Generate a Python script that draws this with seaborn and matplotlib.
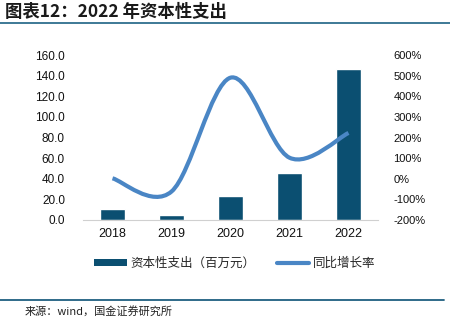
import matplotlib
matplotlib.use("Agg")
import matplotlib.pyplot as plt
from matplotlib.path import Path
from matplotlib.patches import PathPatch, Patch
from matplotlib.lines import Line2D
from matplotlib.ticker import FuncFormatter, MultipleLocator
import seaborn as sns
import pandas as pd

years = ["2018", "2019", "2020", "2021", "2022"]
capex = [11.0, 5.0, 23.0, 46.0, 146.0]          # 资本性支出（百万元）
growth = [2.0, -62.0, 490.0, 102.0, 222.0]      # 同比增长率 (%)

title = "图表12：2022 年资本性支出"
bar_label = "资本性支出（百万元）"
line_label = "同比增长率"
source = "来源：wind，国金证券研究所"

BAR_C = "#0B4F71"
LINE_C = "#4A86C5"

sns.set_theme(style="white")
plt.rcParams["font.family"] = ["Liberation Sans", "Noto Sans CJK SC", "DejaVu Sans"]

fig = plt.figure(figsize=(4.5, 3.25), dpi=100)
ax = fig.add_axes([83 / 450, 1 - 220 / 325, 295 / 450, 165 / 325])

df = pd.DataFrame({"year": years, "capex": capex, "growth": growth})
sns.barplot(data=df, x="year", y="capex", color=BAR_C, width=0.41,
            saturation=1, ax=ax, zorder=2)
ax.set_xlim(-0.5, 4.5)
ax.set_ylim(0, 160)
ax.yaxis.set_major_locator(MultipleLocator(20))
ax.yaxis.set_major_formatter(FuncFormatter(lambda v, p: f"{v:.1f}"))
ax.set_xlabel("")
ax.set_ylabel("")
for s in ["top", "right", "left"]:
    ax.spines[s].set_visible(False)
ax.spines["bottom"].set_color("#d0d0d0")
ax.spines["bottom"].set_linewidth(0.8)
ax.tick_params(axis="y", length=0, pad=13, labelsize=8.5, colors="#111111")
ax.tick_params(axis="x", length=0, pad=6, labelsize=9, colors="#111111")

ax2 = ax.twinx()
ax2.set_ylim(-200, 600)
ax2.yaxis.set_major_locator(MultipleLocator(100))
ax2.yaxis.set_major_formatter(FuncFormatter(lambda v, p: f"{v:.0f}%"))
for s in ["top", "right", "left", "bottom"]:
    ax2.spines[s].set_visible(False)
ax2.tick_params(axis="y", length=0, pad=11, labelsize=8, colors="#111111")
ax2.grid(False)

# smoothed (Catmull-Rom style) line through the growth points
xs = [ax.get_xticks()[i] for i in range(len(growth))]
ys = growth
verts = [(xs[0], ys[0])]
codes = [Path.MOVETO]
n = len(xs)
for i in range(n - 1):
    x0, y0 = (xs[i - 1], ys[i - 1]) if i > 0 else (xs[i], ys[i])
    x1, y1 = xs[i], ys[i]
    x2, y2 = xs[i + 1], ys[i + 1]
    x3, y3 = (xs[i + 2], ys[i + 2]) if i + 2 < n else (xs[i + 1], ys[i + 1])
    c1 = (x1 + (x2 - x0) / 6, y1 + (y2 - y0) / 6)
    c2 = (x2 - (x3 - x1) / 6, y2 - (y3 - y1) / 6)
    verts += [c1, c2, (x2, y2)]
    codes += [Path.CURVE4] * 3
ax2.add_patch(PathPatch(Path(verts, codes), facecolor="none", edgecolor=LINE_C,
                        lw=3, capstyle="butt", joinstyle="round", zorder=3))

handles = [Patch(facecolor=BAR_C, edgecolor="none"),
           Line2D([0], [0], color=LINE_C, lw=3)]
fig.legend(handles, [bar_label, line_label], loc="center",
           bbox_to_anchor=(0.522, 1 - 263 / 325), ncol=2, frameon=False,
           handlelength=2.6, handleheight=0.5, columnspacing=1.7,
           handletextpad=0.3,
           prop={"family": ["Noto Sans CJK SC", "DejaVu Sans"], "size": 9})

fig.text(5 / 450, 1 - 12 / 325, title, fontsize=12.5, fontweight="bold",
         fontstyle="italic", va="center", ha="left", color="#1a1a1a",
         family=["Noto Sans CJK SC", "DejaVu Sans"])
fig.add_artist(Line2D([0, 1], [1 - 22.7 / 325] * 2, color="#2E6E8E", lw=1.3,
                      transform=fig.transFigure))
fig.add_artist(Line2D([0, 444 / 450], [1 - 300 / 325] * 2, color="#1F5F80",
                      lw=1.3, transform=fig.transFigure))
fig.text(25 / 450, 1 - 311 / 325, source, fontsize=8, va="center", ha="left",
         color="#222222", family=["Noto Sans CJK SC", "DejaVu Sans"])

fig.savefig("out.png", dpi=100)
